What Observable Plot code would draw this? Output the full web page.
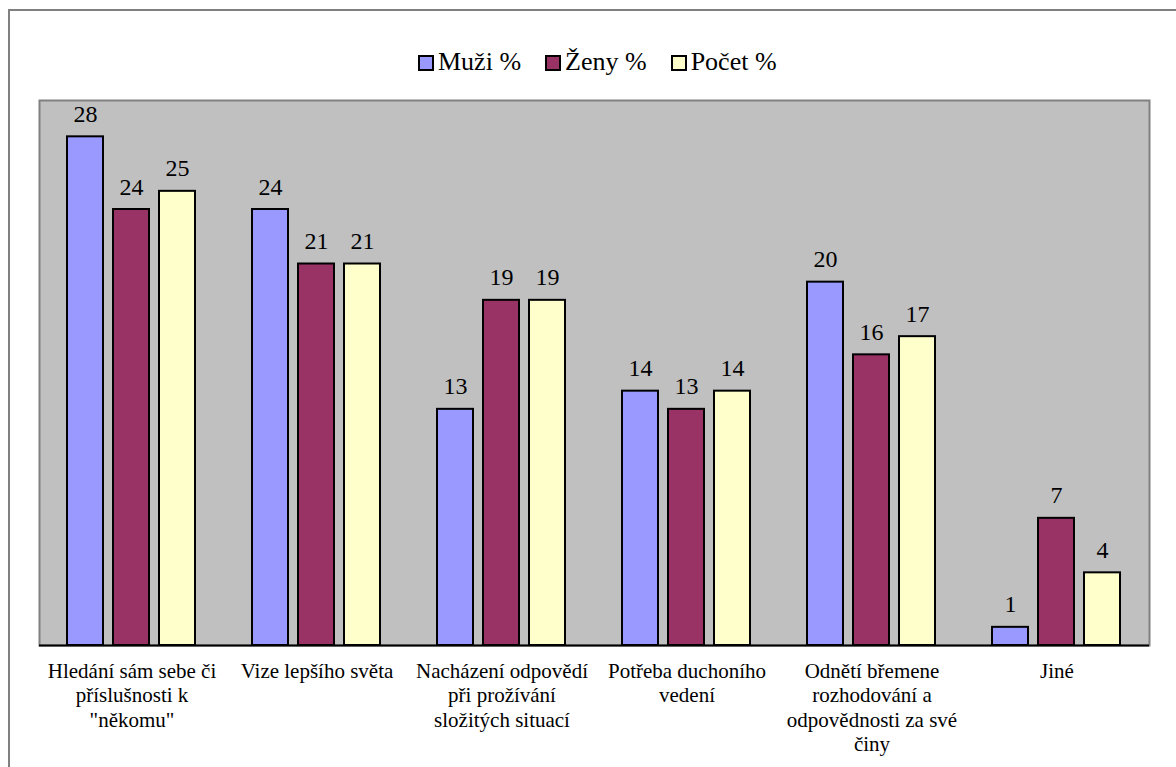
<!DOCTYPE html>
<html>
<head>
<meta charset="utf-8">
<script src="https://cdn.jsdelivr.net/npm/d3@7"></script>
<script src="https://cdn.jsdelivr.net/npm/@observablehq/plot@0.6"></script>
</head>
<body style="margin:0;padding:0;background:#fff;position:relative;width:1176px;height:767px;overflow:hidden;font-family:'Liberation Serif'">
<div style="position:absolute;left:8px;top:9px;width:1400px;height:1000px;border:2px solid #808080;box-sizing:border-box"></div>
<div id="chart" style="position:absolute;left:0;top:0"></div>
<div id="legend" style="position:absolute;left:418px;top:47px;display:flex;gap:24px;font-family:'Liberation Serif';font-size:26px;line-height:30px;color:#000;white-space:nowrap"></div>
<script>
// ---- data ----
const categories = [
  "Hledání sám sebe či\npříslušnosti k\n\"někomu\"",
  "Vize lepšího světa",
  "Nacházení odpovědí\npři prožívání\nsložitých situací",
  "Potřeba duchoního\nvedení",
  "Odnětí břemene\nrozhodování a\nodpovědnosti za své\nčiny",
  "Jiné"
];
const series = ["Muži %", "Ženy %", "Počet %"];
const muzi  = [28, 24, 13, 14, 20, 1];
const zeny  = [24, 21, 19, 13, 16, 7];
const pocet = [25, 21, 19, 14, 17, 4];
const colors = ["#9999ff", "#993366", "#ffffcc"];
const yDomain = [0, 30];

const values = [muzi, zeny, pocet];
const data = categories.flatMap((c, i) =>
  series.map((s, j) => ({ cat: c, series: s, value: values[j][i] }))
);

const FONT = "Liberation Serif";

const chart = Plot.plot({
  width: 1176,
  height: 767,
  marginLeft: 38,
  marginRight: 26,
  marginTop: 100,
  marginBottom: 122,
  style: "background: transparent; color: #000; font-family: 'Liberation Serif';",
  fx: { domain: categories, padding: 0, axis: null },
  x: { domain: series, paddingInner: 0.212, paddingOuter: 0.607, axis: null },
  y: { domain: yDomain, axis: null },
  color: { domain: series, range: colors },
  marks: [
    Plot.frame({ facet: "super", fill: "#c0c0c0", stroke: "#808080", strokeWidth: 2 }),
    Plot.barY(data, { fx: "cat", x: "series", y: "value", fill: "series", stroke: "#000", strokeWidth: 2 }),
    Plot.ruleY([0], { stroke: "#000", strokeWidth: 2 }),
    Plot.text(data, { fx: "cat", x: "series", y: "value", text: d => String(d.value),
      dy: -15, lineAnchor: "bottom", fontSize: 24, fontFamily: FONT, fill: "#000" }),
    Plot.text(categories, { fx: d => d, text: d => d, frameAnchor: "bottom",
      lineAnchor: "top", dy: 15, fontSize: 21, lineHeight: 1.16, fontFamily: FONT, fill: "#000" })
  ]
});
document.getElementById("chart").appendChild(chart);

// legend
const legend = document.getElementById("legend");
series.forEach((s, j) => {
  const item = document.createElement("div");
  item.style.cssText = "display:flex;align-items:center;font-family:'Liberation Serif'";
  const sw = document.createElement("span");
  sw.style.cssText = "display:inline-block;width:16px;height:16px;box-sizing:border-box;border:2px solid #000;margin-right:4px;margin-top:2px;background:" + colors[j];
  const t = document.createElement("span");
  t.textContent = s;
  t.style.fontFamily = "'Liberation Serif'";
  item.appendChild(sw);
  item.appendChild(t);
  legend.appendChild(item);
});
</script>
</body>
</html>
